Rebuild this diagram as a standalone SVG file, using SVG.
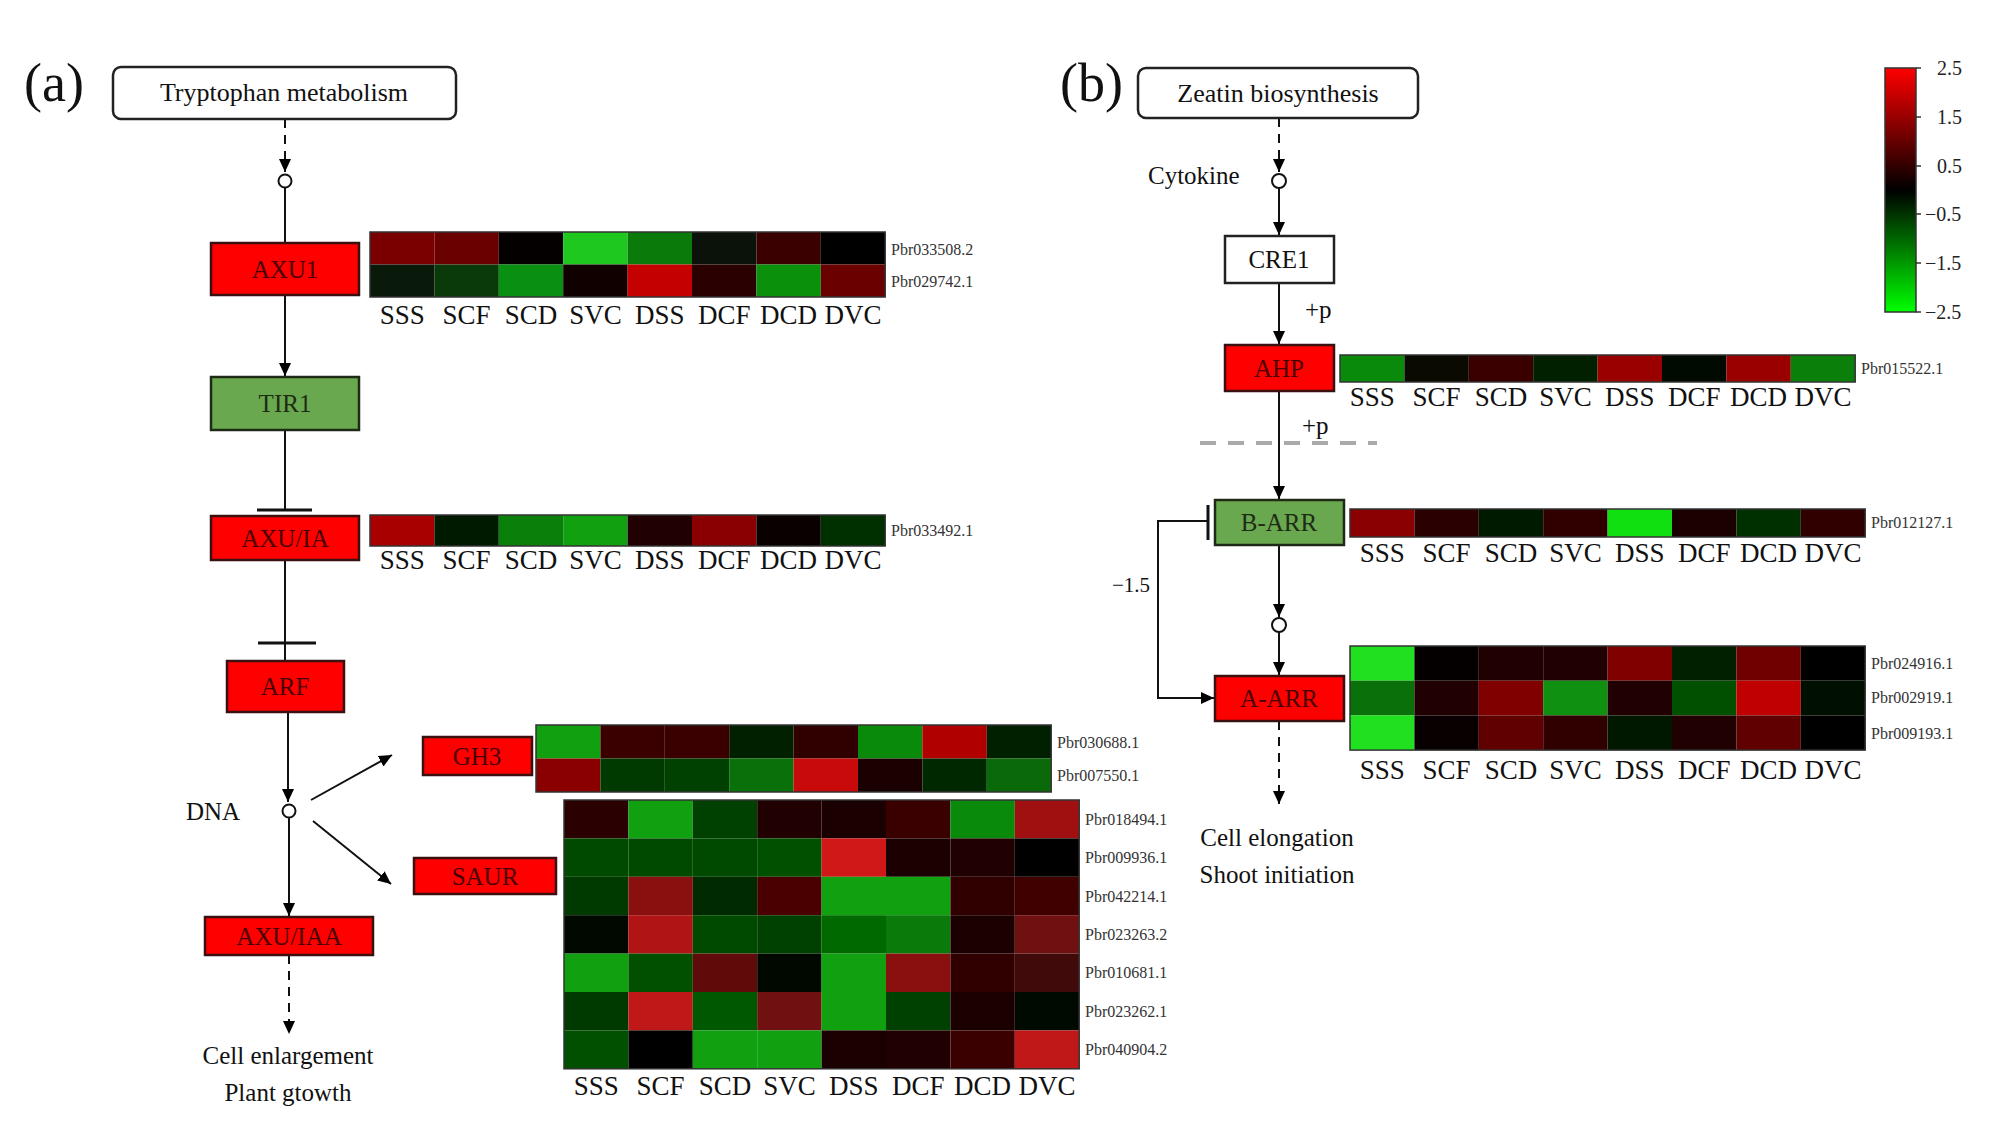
<svg xmlns="http://www.w3.org/2000/svg" width="2009" height="1128" viewBox="0 0 2009 1128">
<defs>
<marker id="arr" markerUnits="userSpaceOnUse" markerWidth="14" markerHeight="14" refX="13" refY="7" orient="auto"><path d="M0,1 L13,7 L0,13 z" fill="#000"/></marker>
<linearGradient id="cbar" x1="0" y1="0" x2="0" y2="1"><stop offset="0" stop-color="#ff0000"/><stop offset="0.5" stop-color="#000000"/><stop offset="1" stop-color="#00ff00"/></linearGradient>
<style>
text{font-family:"Liberation Serif","Times New Roman",serif;fill:#111}
.lbl{font-size:25px}
.big{font-size:54px}
.col{font-size:27px;text-anchor:middle}
.gene{font-size:16px;fill:#333}
.nt{font-size:25px;text-anchor:middle}
.red{fill:#ff0000;stroke:#3a1010;stroke-width:2.5}
.grn{fill:#6aa84f;stroke:#1e2a16;stroke-width:2.5}
.wht{fill:#fff;stroke:#222;stroke-width:2.5}
.rt{fill:#4a0000}
.gt{fill:#1e2c14}
.ln{stroke:#111;stroke-width:2;fill:none}
.dsh{stroke:#111;stroke-width:2;fill:none;stroke-dasharray:9,7}
.hm{fill:none;stroke:#333;stroke-width:1.5}
.cb{font-size:20px;fill:#222}
</style>
</defs>
<rect width="2009" height="1128" fill="#fff"/>

<text class="big" x="24" y="101">(a)</text>
<text class="big" x="1060" y="101">(b)</text>

<g id="connectors">
<line class="dsh" x1="285" y1="119" x2="285" y2="172" marker-end="url(#arr)"/>
<circle cx="285" cy="181" r="6.5" fill="#fff" stroke="#111" stroke-width="2"/>
<line class="ln" x1="285" y1="187.5" x2="285" y2="243"/>
<line class="ln" x1="285" y1="295" x2="285" y2="376" marker-end="url(#arr)"/>
<line class="ln" x1="285" y1="430" x2="285" y2="510"/>
<line x1="257" y1="510" x2="312" y2="510" stroke="#111" stroke-width="3"/>
<line class="ln" x1="285" y1="560" x2="285" y2="661"/>
<line x1="258" y1="643" x2="316" y2="643" stroke="#111" stroke-width="3"/>
<line class="ln" x1="288" y1="712" x2="288" y2="802" marker-end="url(#arr)"/>
<circle cx="289" cy="811" r="6.5" fill="#fff" stroke="#111" stroke-width="2"/>
<line class="ln" x1="289" y1="817.5" x2="289" y2="916" marker-end="url(#arr)"/>
<line class="ln" x1="311" y1="800" x2="392" y2="755" marker-end="url(#arr)"/>
<line class="ln" x1="313" y1="821" x2="391" y2="884" marker-end="url(#arr)"/>
<line class="dsh" x1="289" y1="955" x2="289" y2="1034" marker-end="url(#arr)"/>

<line class="dsh" x1="1279" y1="118" x2="1279" y2="172" marker-end="url(#arr)"/>
<circle cx="1279" cy="181" r="7" fill="#fff" stroke="#111" stroke-width="2"/>
<line class="ln" x1="1279" y1="188" x2="1279" y2="235" marker-end="url(#arr)"/>
<line class="ln" x1="1279" y1="283" x2="1279" y2="344" marker-end="url(#arr)"/>
<line class="ln" x1="1279" y1="391" x2="1279" y2="499" marker-end="url(#arr)"/>
<line x1="1200" y1="443" x2="1377" y2="443" stroke="#aaa" stroke-width="4" stroke-dasharray="16,12"/>
<line class="ln" x1="1279" y1="545" x2="1279" y2="617" marker-end="url(#arr)"/>
<circle cx="1279" cy="625" r="7" fill="#fff" stroke="#111" stroke-width="2"/>
<line class="ln" x1="1279" y1="632" x2="1279" y2="675" marker-end="url(#arr)"/>
<path class="ln" d="M1208,521 H1158 V698 H1214" marker-end="url(#arr)"/>
<line x1="1208" y1="505" x2="1208" y2="540" stroke="#111" stroke-width="3"/>
<line class="dsh" x1="1279" y1="721" x2="1279" y2="804" marker-end="url(#arr)"/>
</g>

<g id="n-tryptophan"><rect x="113" y="67" width="343" height="52" rx="8" class="wht" stroke-width="2"/><text class="nt" x="284" y="101" style="font-size:26px">Tryptophan metabolism</text></g>
<g id="n-axu1"><rect x="211" y="243" width="148" height="52" class="red"/><text class="nt rt" x="285" y="278">AXU1</text></g>
<g id="n-tir1"><rect x="211" y="377" width="148" height="53" class="grn"/><text class="nt gt" x="285" y="412">TIR1</text></g>
<g id="n-axuia"><rect x="211" y="516" width="148" height="44" class="red"/><text class="nt rt" x="285" y="547">AXU/IA</text></g>
<g id="n-arf"><rect x="227" y="661" width="117" height="51" class="red"/><text class="nt rt" x="285" y="695">ARF</text></g>
<g id="n-dna"><text class="lbl" x="186" y="820">DNA</text></g>
<g id="n-gh3"><rect x="423" y="737" width="109" height="38" class="red"/><text class="nt rt" x="477" y="765">GH3</text></g>
<g id="n-saur"><rect x="414" y="858" width="142" height="36" class="red"/><text class="nt rt" x="485" y="885">SAUR</text></g>
<g id="n-axuiaa"><rect x="205" y="917" width="168" height="38" class="red"/><text class="nt rt" x="289" y="945">AXU/IAA</text></g>
<g id="n-out-a"><text class="lbl" x="288" y="1064" text-anchor="middle">Cell enlargement</text><text class="lbl" x="288" y="1101" text-anchor="middle">Plant gtowth</text></g>

<g id="n-zeatin"><rect x="1138" y="68" width="280" height="50" rx="8" class="wht" stroke-width="2"/><text class="nt" x="1278" y="102" style="font-size:26px">Zeatin biosynthesis</text></g>
<g id="n-cytokine"><text class="lbl" x="1148" y="184">Cytokine</text></g>
<g id="n-cre1"><rect x="1225" y="236" width="109" height="47" class="wht"/><text class="nt" x="1279" y="268">CRE1</text></g>
<g id="n-p1"><text class="lbl" x="1305" y="318">+p</text></g>
<g id="n-ahp"><rect x="1225" y="345" width="109" height="46" class="red"/><text class="nt rt" x="1279" y="377">AHP</text></g>
<g id="n-p2"><text class="lbl" x="1302" y="434">+p</text></g>
<g id="n-barr"><rect x="1215" y="500" width="129" height="45" class="grn"/><text class="nt gt" x="1279" y="531">B-ARR</text></g>
<g id="n-m15"><text class="lbl" x="1112" y="592" style="font-size:21px">−1.5</text></g>
<g id="n-aarr"><rect x="1215" y="676" width="129" height="45" class="red"/><text class="nt rt" x="1279" y="707">A-ARR</text></g>
<g id="n-out-b"><text class="lbl" x="1277" y="846" text-anchor="middle">Cell elongation</text><text class="lbl" x="1277" y="883" text-anchor="middle">Shoot initiation</text></g>

<!-- heatmap AXU1 -->
<g id="hm-axu1" transform="translate(370,232)">
<rect x="0" y="0" width="64.4" height="32.5" fill="#7a0000"/><rect x="64.4" y="0" width="64.4" height="32.5" fill="#6a0000"/><rect x="128.8" y="0" width="64.4" height="32.5" fill="#050000"/><rect x="193.2" y="0" width="64.4" height="32.5" fill="#1ec81e"/><rect x="257.6" y="0" width="64.4" height="32.5" fill="#0a7a0a"/><rect x="322" y="0" width="64.4" height="32.5" fill="#0a120a"/><rect x="386.4" y="0" width="64.4" height="32.5" fill="#3a0000"/><rect x="450.8" y="0" width="64.4" height="32.5" fill="#000000"/>
<rect x="0" y="32.5" width="64.4" height="32.5" fill="#0a1a0a"/><rect x="64.4" y="32.5" width="64.4" height="32.5" fill="#0a3a0a"/><rect x="128.8" y="32.5" width="64.4" height="32.5" fill="#0a9010"/><rect x="193.2" y="32.5" width="64.4" height="32.5" fill="#100000"/><rect x="257.6" y="32.5" width="64.4" height="32.5" fill="#c40000"/><rect x="322" y="32.5" width="64.4" height="32.5" fill="#2a0000"/><rect x="386.4" y="32.5" width="64.4" height="32.5" fill="#0a900a"/><rect x="450.8" y="32.5" width="64.4" height="32.5" fill="#6a0000"/>
<rect class="hm" x="0" y="0" width="515.2" height="65"/>
<text class="gene" x="521" y="23">Pbr033508.2</text><text class="gene" x="521" y="55">Pbr029742.1</text>
<g><text class="col" x="32.2" y="92">SSS</text><text class="col" x="96.6" y="92">SCF</text><text class="col" x="161" y="92">SCD</text><text class="col" x="225.4" y="92">SVC</text><text class="col" x="289.8" y="92">DSS</text><text class="col" x="354.2" y="92">DCF</text><text class="col" x="418.6" y="92">DCD</text><text class="col" x="483" y="92">DVC</text></g>
</g>

<!-- heatmap AXU/IA -->
<g id="hm-axuia" transform="translate(370,515)">
<rect x="0" y="0" width="64.4" height="31" fill="#a80000"/><rect x="64.4" y="0" width="64.4" height="31" fill="#001a00"/><rect x="128.8" y="0" width="64.4" height="31" fill="#0a800a"/><rect x="193.2" y="0" width="64.4" height="31" fill="#10a010"/><rect x="257.6" y="0" width="64.4" height="31" fill="#200000"/><rect x="322" y="0" width="64.4" height="31" fill="#8a0000"/><rect x="386.4" y="0" width="64.4" height="31" fill="#0a0000"/><rect x="450.8" y="0" width="64.4" height="31" fill="#003000"/>
<rect class="hm" x="0" y="0" width="515.2" height="31"/>
<text class="gene" x="521" y="21">Pbr033492.1</text>
<g><text class="col" x="32.2" y="54">SSS</text><text class="col" x="96.6" y="54">SCF</text><text class="col" x="161" y="54">SCD</text><text class="col" x="225.4" y="54">SVC</text><text class="col" x="289.8" y="54">DSS</text><text class="col" x="354.2" y="54">DCF</text><text class="col" x="418.6" y="54">DCD</text><text class="col" x="483" y="54">DVC</text></g>
</g>

<!-- heatmap GH3 -->
<g id="hm-gh3" transform="translate(536,725)">
<rect x="0" y="0" width="64.4" height="33.5" fill="#10a010"/><rect x="64.4" y="0" width="64.4" height="33.5" fill="#3a0000"/><rect x="128.8" y="0" width="64.4" height="33.5" fill="#3a0000"/><rect x="193.2" y="0" width="64.4" height="33.5" fill="#002000"/><rect x="257.6" y="0" width="64.4" height="33.5" fill="#300000"/><rect x="322" y="0" width="64.4" height="33.5" fill="#0a8a0a"/><rect x="386.4" y="0" width="64.4" height="33.5" fill="#b00000"/><rect x="450.8" y="0" width="64.4" height="33.5" fill="#002000"/>
<rect x="0" y="33.5" width="64.4" height="33.5" fill="#8a0000"/><rect x="64.4" y="33.5" width="64.4" height="33.5" fill="#003a00"/><rect x="128.8" y="33.5" width="64.4" height="33.5" fill="#004000"/><rect x="193.2" y="33.5" width="64.4" height="33.5" fill="#0a700a"/><rect x="257.6" y="33.5" width="64.4" height="33.5" fill="#c80a0a"/><rect x="322" y="33.5" width="64.4" height="33.5" fill="#1a0000"/><rect x="386.4" y="33.5" width="64.4" height="33.5" fill="#002800"/><rect x="450.8" y="33.5" width="64.4" height="33.5" fill="#0a6a0a"/>
<rect class="hm" x="0" y="0" width="515.2" height="67"/>
<text class="gene" x="521" y="23">Pbr030688.1</text><text class="gene" x="521" y="56">Pbr007550.1</text>
</g>

<!-- heatmap SAUR -->
<g id="hm-saur" transform="translate(564,800)">
<rect x="0" y="0" width="64.4" height="38.4" fill="#2a0000"/><rect x="64.4" y="0" width="64.4" height="38.4" fill="#10a010"/><rect x="128.8" y="0" width="64.4" height="38.4" fill="#004000"/><rect x="193.2" y="0" width="64.4" height="38.4" fill="#200000"/><rect x="257.6" y="0" width="64.4" height="38.4" fill="#1a0000"/><rect x="322" y="0" width="64.4" height="38.4" fill="#3a0000"/><rect x="386.4" y="0" width="64.4" height="38.4" fill="#0a8a0a"/><rect x="450.8" y="0" width="64.4" height="38.4" fill="#a01010"/>
<rect x="0" y="38.4" width="64.4" height="38.4" fill="#004a00"/><rect x="64.4" y="38.4" width="64.4" height="38.4" fill="#004a00"/><rect x="128.8" y="38.4" width="64.4" height="38.4" fill="#004a00"/><rect x="193.2" y="38.4" width="64.4" height="38.4" fill="#005000"/><rect x="257.6" y="38.4" width="64.4" height="38.4" fill="#d01818"/><rect x="322" y="38.4" width="64.4" height="38.4" fill="#1a0000"/><rect x="386.4" y="38.4" width="64.4" height="38.4" fill="#200000"/><rect x="450.8" y="38.4" width="64.4" height="38.4" fill="#000000"/>
<rect x="0" y="76.8" width="64.4" height="38.4" fill="#003a00"/><rect x="64.4" y="76.8" width="64.4" height="38.4" fill="#8a1010"/><rect x="128.8" y="76.8" width="64.4" height="38.4" fill="#002a00"/><rect x="193.2" y="76.8" width="64.4" height="38.4" fill="#4a0000"/><rect x="257.6" y="76.8" width="64.4" height="38.4" fill="#10a010"/><rect x="322" y="76.8" width="64.4" height="38.4" fill="#10a010"/><rect x="386.4" y="76.8" width="64.4" height="38.4" fill="#300000"/><rect x="450.8" y="76.8" width="64.4" height="38.4" fill="#400000"/>
<rect x="0" y="115.2" width="64.4" height="38.4" fill="#000800"/><rect x="64.4" y="115.2" width="64.4" height="38.4" fill="#b01414"/><rect x="128.8" y="115.2" width="64.4" height="38.4" fill="#004a00"/><rect x="193.2" y="115.2" width="64.4" height="38.4" fill="#004000"/><rect x="257.6" y="115.2" width="64.4" height="38.4" fill="#006a00"/><rect x="322" y="115.2" width="64.4" height="38.4" fill="#0a7a0a"/><rect x="386.4" y="115.2" width="64.4" height="38.4" fill="#1a0000"/><rect x="450.8" y="115.2" width="64.4" height="38.4" fill="#701010"/>
<rect x="0" y="153.6" width="64.4" height="38.4" fill="#10a010"/><rect x="64.4" y="153.6" width="64.4" height="38.4" fill="#005000"/><rect x="128.8" y="153.6" width="64.4" height="38.4" fill="#600a0a"/><rect x="193.2" y="153.6" width="64.4" height="38.4" fill="#000800"/><rect x="257.6" y="153.6" width="64.4" height="38.4" fill="#10a010"/><rect x="322" y="153.6" width="64.4" height="38.4" fill="#8a1010"/><rect x="386.4" y="153.6" width="64.4" height="38.4" fill="#300000"/><rect x="450.8" y="153.6" width="64.4" height="38.4" fill="#400a0a"/>
<rect x="0" y="192" width="64.4" height="38.4" fill="#003a00"/><rect x="64.4" y="192" width="64.4" height="38.4" fill="#c01818"/><rect x="128.8" y="192" width="64.4" height="38.4" fill="#005800"/><rect x="193.2" y="192" width="64.4" height="38.4" fill="#701010"/><rect x="257.6" y="192" width="64.4" height="38.4" fill="#10a010"/><rect x="322" y="192" width="64.4" height="38.4" fill="#004000"/><rect x="386.4" y="192" width="64.4" height="38.4" fill="#1a0000"/><rect x="450.8" y="192" width="64.4" height="38.4" fill="#000a00"/>
<rect x="0" y="230.4" width="64.4" height="38.4" fill="#005000"/><rect x="64.4" y="230.4" width="64.4" height="38.4" fill="#000000"/><rect x="128.8" y="230.4" width="64.4" height="38.4" fill="#10a010"/><rect x="193.2" y="230.4" width="64.4" height="38.4" fill="#10a010"/><rect x="257.6" y="230.4" width="64.4" height="38.4" fill="#1a0000"/><rect x="322" y="230.4" width="64.4" height="38.4" fill="#200000"/><rect x="386.4" y="230.4" width="64.4" height="38.4" fill="#3a0000"/><rect x="450.8" y="230.4" width="64.4" height="38.4" fill="#c01818"/>
<rect class="hm" x="0" y="0" width="515.2" height="268.8"/>
<text class="gene" x="521" y="25">Pbr018494.1</text><text class="gene" x="521" y="63">Pbr009936.1</text><text class="gene" x="521" y="102">Pbr042214.1</text><text class="gene" x="521" y="140">Pbr023263.2</text><text class="gene" x="521" y="178">Pbr010681.1</text><text class="gene" x="521" y="217">Pbr023262.1</text><text class="gene" x="521" y="255">Pbr040904.2</text>
<g><text class="col" x="32.2" y="295">SSS</text><text class="col" x="96.6" y="295">SCF</text><text class="col" x="161" y="295">SCD</text><text class="col" x="225.4" y="295">SVC</text><text class="col" x="289.8" y="295">DSS</text><text class="col" x="354.2" y="295">DCF</text><text class="col" x="418.6" y="295">DCD</text><text class="col" x="483" y="295">DVC</text></g>
</g>

<!-- heatmap AHP -->
<g id="hm-ahp" transform="translate(1340,355)">
<rect x="0" y="0" width="64.4" height="27" fill="#0a8a0a"/><rect x="64.4" y="0" width="64.4" height="27" fill="#0a0a00"/><rect x="128.8" y="0" width="64.4" height="27" fill="#3a0000"/><rect x="193.2" y="0" width="64.4" height="27" fill="#002000"/><rect x="257.6" y="0" width="64.4" height="27" fill="#9a0000"/><rect x="322" y="0" width="64.4" height="27" fill="#000a00"/><rect x="386.4" y="0" width="64.4" height="27" fill="#9a0000"/><rect x="450.8" y="0" width="64.4" height="27" fill="#0a800a"/>
<rect class="hm" x="0" y="0" width="515.2" height="27"/>
<text class="gene" x="521" y="19">Pbr015522.1</text>
<g><text class="col" x="32.2" y="51">SSS</text><text class="col" x="96.6" y="51">SCF</text><text class="col" x="161" y="51">SCD</text><text class="col" x="225.4" y="51">SVC</text><text class="col" x="289.8" y="51">DSS</text><text class="col" x="354.2" y="51">DCF</text><text class="col" x="418.6" y="51">DCD</text><text class="col" x="483" y="51">DVC</text></g>
</g>

<!-- heatmap B-ARR -->
<g id="hm-barr" transform="translate(1350,509)">
<rect x="0" y="0" width="64.4" height="28" fill="#8a0000"/><rect x="64.4" y="0" width="64.4" height="28" fill="#2a0000"/><rect x="128.8" y="0" width="64.4" height="28" fill="#001a00"/><rect x="193.2" y="0" width="64.4" height="28" fill="#300000"/><rect x="257.6" y="0" width="64.4" height="28" fill="#10e010"/><rect x="322" y="0" width="64.4" height="28" fill="#1a0000"/><rect x="386.4" y="0" width="64.4" height="28" fill="#003000"/><rect x="450.8" y="0" width="64.4" height="28" fill="#300000"/>
<rect class="hm" x="0" y="0" width="515.2" height="28"/>
<text class="gene" x="521" y="19">Pbr012127.1</text>
<g><text class="col" x="32.2" y="53">SSS</text><text class="col" x="96.6" y="53">SCF</text><text class="col" x="161" y="53">SCD</text><text class="col" x="225.4" y="53">SVC</text><text class="col" x="289.8" y="53">DSS</text><text class="col" x="354.2" y="53">DCF</text><text class="col" x="418.6" y="53">DCD</text><text class="col" x="483" y="53">DVC</text></g>
</g>

<!-- heatmap A-ARR -->
<g id="hm-aarr" transform="translate(1350,646)">
<rect x="0" y="0" width="64.4" height="34.7" fill="#20e020"/><rect x="64.4" y="0" width="64.4" height="34.7" fill="#050000"/><rect x="128.8" y="0" width="64.4" height="34.7" fill="#200000"/><rect x="193.2" y="0" width="64.4" height="34.7" fill="#200000"/><rect x="257.6" y="0" width="64.4" height="34.7" fill="#800000"/><rect x="322" y="0" width="64.4" height="34.7" fill="#002000"/><rect x="386.4" y="0" width="64.4" height="34.7" fill="#700000"/><rect x="450.8" y="0" width="64.4" height="34.7" fill="#000000"/>
<rect x="0" y="34.7" width="64.4" height="34.7" fill="#0a700a"/><rect x="64.4" y="34.7" width="64.4" height="34.7" fill="#200000"/><rect x="128.8" y="34.7" width="64.4" height="34.7" fill="#800000"/><rect x="193.2" y="34.7" width="64.4" height="34.7" fill="#109010"/><rect x="257.6" y="34.7" width="64.4" height="34.7" fill="#200000"/><rect x="322" y="34.7" width="64.4" height="34.7" fill="#005000"/><rect x="386.4" y="34.7" width="64.4" height="34.7" fill="#c00000"/><rect x="450.8" y="34.7" width="64.4" height="34.7" fill="#001000"/>
<rect x="0" y="69.4" width="64.4" height="34.7" fill="#20e020"/><rect x="64.4" y="69.4" width="64.4" height="34.7" fill="#080000"/><rect x="128.8" y="69.4" width="64.4" height="34.7" fill="#600000"/><rect x="193.2" y="69.4" width="64.4" height="34.7" fill="#300000"/><rect x="257.6" y="69.4" width="64.4" height="34.7" fill="#001800"/><rect x="322" y="69.4" width="64.4" height="34.7" fill="#200000"/><rect x="386.4" y="69.4" width="64.4" height="34.7" fill="#600000"/><rect x="450.8" y="69.4" width="64.4" height="34.7" fill="#000000"/>
<rect class="hm" x="0" y="0" width="515.2" height="104.1"/>
<text class="gene" x="521" y="23">Pbr024916.1</text><text class="gene" x="521" y="57">Pbr002919.1</text><text class="gene" x="521" y="93">Pbr009193.1</text>
<g><text class="col" x="32.2" y="133">SSS</text><text class="col" x="96.6" y="133">SCF</text><text class="col" x="161" y="133">SCD</text><text class="col" x="225.4" y="133">SVC</text><text class="col" x="289.8" y="133">DSS</text><text class="col" x="354.2" y="133">DCF</text><text class="col" x="418.6" y="133">DCD</text><text class="col" x="483" y="133">DVC</text></g>
</g>

<!-- color bar -->
<g id="colorbar">
<rect x="1885" y="68" width="31" height="244" fill="url(#cbar)" stroke="#333" stroke-width="1.5"/>
<g stroke="#333" stroke-width="1.5"><line x1="1916" y1="68" x2="1921" y2="68"/><line x1="1916" y1="117" x2="1921" y2="117"/><line x1="1916" y1="166" x2="1921" y2="166"/><line x1="1916" y1="214" x2="1921" y2="214"/><line x1="1916" y1="263" x2="1921" y2="263"/><line x1="1916" y1="312" x2="1921" y2="312"/></g>
<text class="cb" x="1937" y="75">2.5</text><text class="cb" x="1937" y="124">1.5</text><text class="cb" x="1937" y="173">0.5</text><text class="cb" x="1925" y="221">−0.5</text><text class="cb" x="1925" y="270">−1.5</text><text class="cb" x="1925" y="319">−2.5</text>
</g>
</svg>
